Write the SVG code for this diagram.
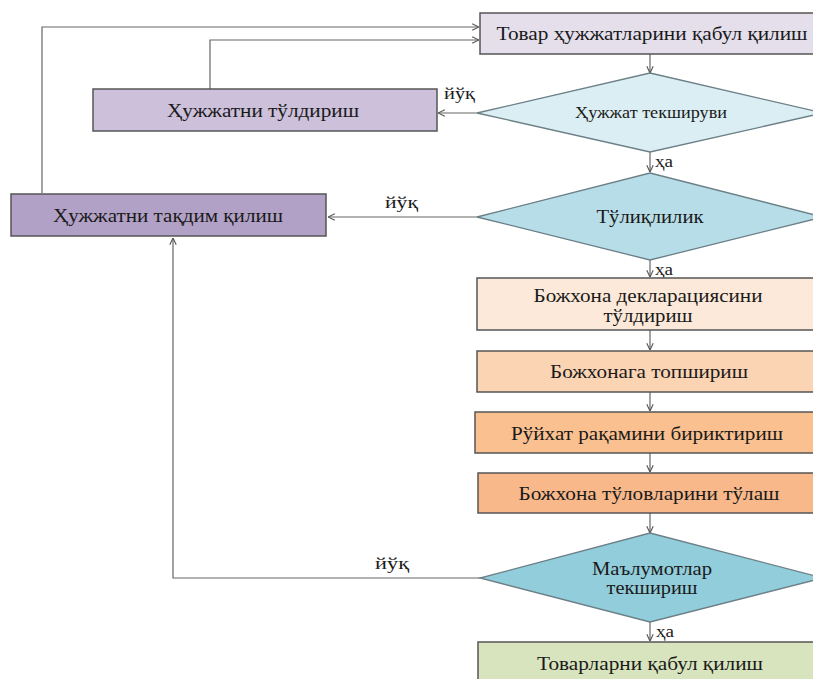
<svg xmlns="http://www.w3.org/2000/svg" width="813" height="679" viewBox="0 0 813 679">
  <style>
    .box { stroke: #555555; stroke-width: 1.5; }
    .dia { stroke: #6b7f86; stroke-width: 1.3; }
    .lbl { font-family: "Liberation Serif", "Times New Roman", serif; font-size: 19px; fill: #1a1a1a; text-anchor: middle; }
    .sm { font-size: 16px; }
    .tag { font-family: "Liberation Serif", "Times New Roman", serif; font-size: 17px; fill: #1a1a1a; }
    .wire { fill: none; stroke: #666666; stroke-width: 1.2; }
  </style>
  <defs>
    <marker id="arrow" viewBox="0 0 10 10" refX="9.5" refY="5" markerWidth="8" markerHeight="8" markerUnits="userSpaceOnUse" orient="auto">
      <path d="M1,1 L9.5,5 L1,9" fill="none" stroke="#555555" stroke-width="1.4"/>
    </marker>
  </defs>
  <rect width="813" height="679" fill="#ffffff"/>

  <!-- connectors -->
  <g id="connectors">
    <path class="wire" d="M42,193 V27 H479" marker-end="url(#arrow)"/>
    <path class="wire" d="M210,89 V40 H479" marker-end="url(#arrow)"/>
    <path class="wire" d="M650,54 V73" marker-end="url(#arrow)"/>
    <path class="wire" d="M477,113 H438" marker-end="url(#arrow)"/>
    <path class="wire" d="M650,152 V172" marker-end="url(#arrow)"/>
    <path class="wire" d="M477,217 H328" marker-end="url(#arrow)"/>
    <path class="wire" d="M650,260 V277" marker-end="url(#arrow)"/>
    <path class="wire" d="M650,330 V350" marker-end="url(#arrow)"/>
    <path class="wire" d="M650,392 V411" marker-end="url(#arrow)"/>
    <path class="wire" d="M650,453 V472" marker-end="url(#arrow)"/>
    <path class="wire" d="M650,513 V533" marker-end="url(#arrow)"/>
    <path class="wire" d="M480,578 H173 V238" marker-end="url(#arrow)"/>
    <path class="wire" d="M650,622 V641" marker-end="url(#arrow)"/>
    <text class="tag" x="444" y="99" textLength="31" lengthAdjust="spacingAndGlyphs">йўқ</text>
    <text class="tag" x="385" y="208" textLength="33" lengthAdjust="spacingAndGlyphs">йўқ</text>
    <text class="tag" x="375" y="569" textLength="34" lengthAdjust="spacingAndGlyphs">йўқ</text>
    <text class="tag" x="655" y="167" textLength="18" lengthAdjust="spacingAndGlyphs">ҳа</text>
    <text class="tag" x="655" y="275" textLength="18" lengthAdjust="spacingAndGlyphs">ҳа</text>
    <text class="tag" x="656" y="637" textLength="18" lengthAdjust="spacingAndGlyphs">ҳа</text>
  </g>

  <g id="receive-docs">
    <rect class="box" x="480" y="13" width="346" height="41" fill="#e5dfec"/>
    <text class="lbl" x="652" y="40" textLength="311" lengthAdjust="spacingAndGlyphs">Товар ҳужжатларини қабул қилиш</text>
  </g>

  <g id="doc-check">
    <polygon class="dia" points="650,73 823,113 650,152 477,113" fill="#dbeef3"/>
    <text class="lbl sm" x="651" y="118" textLength="152" lengthAdjust="spacingAndGlyphs">Ҳужжат текшируви</text>
  </g>

  <g id="fill-doc">
    <rect class="box" x="93" y="89" width="344" height="42" fill="#ccc0da"/>
    <text class="lbl" x="263" y="117" textLength="192" lengthAdjust="spacingAndGlyphs">Ҳужжатни тўлдириш</text>
  </g>

  <g id="completeness">
    <polygon class="dia" points="650,173 823,217 650,260 477,217" fill="#b7dee8"/>
    <text class="lbl" x="650" y="223" textLength="107" lengthAdjust="spacingAndGlyphs">Тўлиқлилик</text>
  </g>

  <g id="submit-doc">
    <rect class="box" x="11" y="194" width="315" height="42" fill="#b2a1c7"/>
    <text class="lbl" x="168" y="222" textLength="230" lengthAdjust="spacingAndGlyphs">Ҳужжатни тақдим қилиш</text>
  </g>

  <g id="declaration">
    <rect class="box" x="477" y="278" width="349" height="52" fill="#fde9d9"/>
    <text class="lbl" x="648" y="302" textLength="229" lengthAdjust="spacingAndGlyphs">Божхона декларациясини</text>
    <text class="lbl" x="648" y="322" textLength="89" lengthAdjust="spacingAndGlyphs">тўлдириш</text>
  </g>

  <g id="hand-over">
    <rect class="box" x="477" y="351" width="349" height="41" fill="#fbd4b4"/>
    <text class="lbl" x="649" y="378" textLength="198" lengthAdjust="spacingAndGlyphs">Божхонага топшириш</text>
  </g>

  <g id="register-number">
    <rect class="box" x="475" y="412" width="351" height="41" fill="#fac090"/>
    <text class="lbl" x="647" y="440" textLength="272" lengthAdjust="spacingAndGlyphs">Рўйхат рақамини бириктириш</text>
  </g>

  <g id="pay-duties">
    <rect class="box" x="478" y="473" width="348" height="40" fill="#f8b88a"/>
    <text class="lbl" x="649" y="500" textLength="261" lengthAdjust="spacingAndGlyphs">Божхона тўловларини тўлаш</text>
  </g>

  <g id="data-check">
    <polygon class="dia" points="650,533 823,578 650,622 480,578" fill="#92cddc"/>
    <text class="lbl" x="652" y="575" textLength="120" lengthAdjust="spacingAndGlyphs">Маълумотлар</text>
    <text class="lbl" x="652" y="594" textLength="91" lengthAdjust="spacingAndGlyphs">текшириш</text>
  </g>

  <g id="accept-goods">
    <rect class="box" x="478" y="642" width="348" height="50" fill="#d7e4bd"/>
    <text class="lbl" x="650" y="670" textLength="226" lengthAdjust="spacingAndGlyphs">Товарларни қабул қилиш</text>
  </g>
</svg>
